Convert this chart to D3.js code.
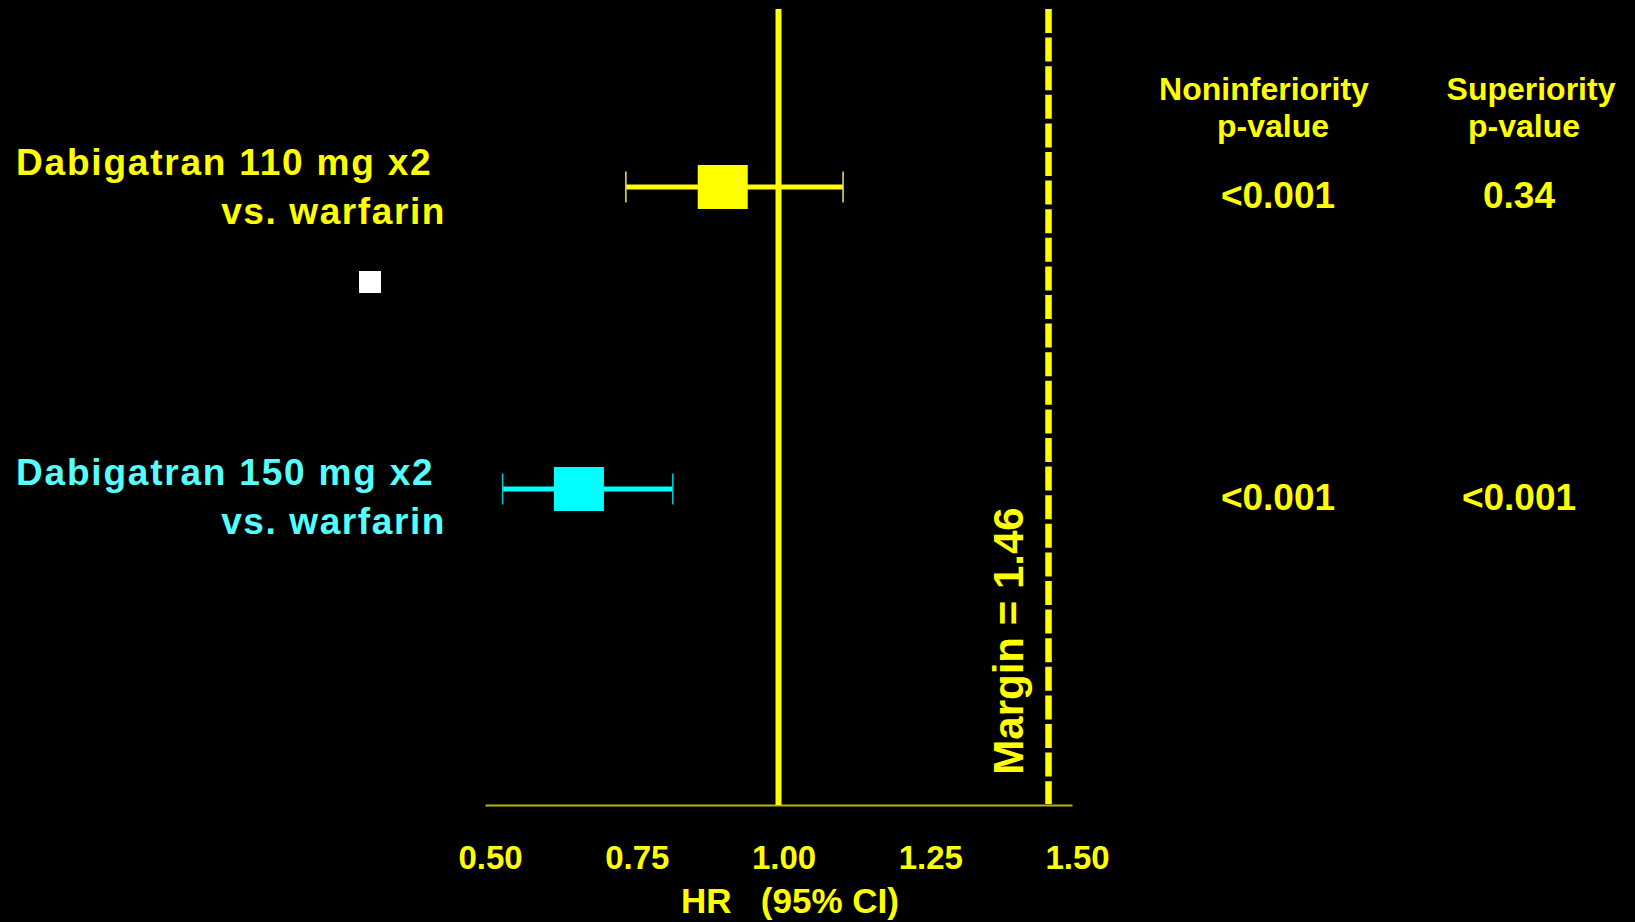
<!DOCTYPE html>
<html>
<head>
<meta charset="utf-8">
<script src="https://cdn.jsdelivr.net/npm/d3@7/dist/d3.min.js"></script>
<style>
  html, body { margin: 0; padding: 0; background: #000; }
  svg { display: block; }
  text { font-family: "Liberation Sans", Arial, sans-serif; font-weight: bold; }
</style>
</head>
<body>
<svg id="chart" width="1635" height="922"></svg>
<script>
// ---- data ----
const labelLine1 = ["Dabigatran 110 mg x2", "Dabigatran 150 mg x2"];
const labelLine2 = ["vs. warfarin", "vs. warfarin"];
const hr = [0.905, 0.66];
const lower = [0.74, 0.53];
const upper = [1.11, 0.82];
const nonInfP = ["<0.001", "<0.001"];
const supP = ["0.34", "<0.001"];
const tickValues = [0.50, 0.75, 1.00, 1.25, 1.50];
const margin = 1.46;
const colHeaders = [["Noninferiority", "p-value"], ["Superiority", "p-value"]];

// ---- styling ----
const YELLOW = "#FFFF00";
const markColor = ["#FFFF00", "#00FFFF"];
const textColor = ["#FFFF00", "#55FFFF"];
const capColor = ["#D8D860", "#00C8C8"];

const svg = d3.select("#chart");
svg.append("rect").attr("width", 1635).attr("height", 922).attr("fill", "#000");

const x = d3.scaleLinear().domain([0.5, 1.5]).range([485, 1072]);
const y = d3.scalePoint().domain(d3.range(hr.length)).range([187, 489]);
const yTop = 9, yAxis = 805;

// axis line
const axis = d3.axisBottom(x).tickValues(tickValues).tickFormat(d3.format(".2f")).tickSize(0).tickPadding(0);
const gAxis = svg.append("g").attr("transform", `translate(0,${yAxis})`).call(axis);
gAxis.select(".domain").attr("stroke", "#B8B800").attr("stroke-width", 2.2);
gAxis.selectAll(".tick text")
  .attr("fill", YELLOW).attr("font-size", 33).attr("dy", 0).attr("y", 64)
  .attr("dx", 5)
  .style("font-family", "'Liberation Sans', Arial, sans-serif").style("font-weight", "bold");

svg.append("text").attr("x", 790).attr("y", 913).attr("text-anchor", "middle")
  .attr("fill", YELLOW).attr("font-size", 35).attr("xml:space", "preserve")
  .text("HR   (95% CI)");

// reference line at 1.0
svg.append("line").attr("x1", x(1)).attr("x2", x(1)).attr("y1", yTop).attr("y2", yAxis)
  .attr("stroke", YELLOW).attr("stroke-width", 6);

// margin dashed line
svg.append("line").attr("x1", x(margin)).attr("x2", x(margin)).attr("y1", yTop).attr("y2", yAxis - 1)
  .attr("stroke", YELLOW).attr("stroke-width", 6.5).attr("stroke-dasharray", "24 4.6");

svg.append("text")
  .attr("transform", `translate(1023,641) rotate(-90)`)
  .attr("text-anchor", "middle").attr("fill", YELLOW).attr("font-size", 42)
  .text("Margin = " + margin.toFixed(2));

// rows
const rows = svg.selectAll("g.row").data(hr).join("g").attr("class", "row");
rows.append("line")
  .attr("x1", (d, i) => x(lower[i])).attr("x2", (d, i) => x(upper[i]))
  .attr("y1", (d, i) => y(i)).attr("y2", (d, i) => y(i))
  .attr("stroke", (d, i) => markColor[i]).attr("stroke-width", 4.8);
rows.selectAll("line.cap").data((d, i) => [[lower[i], i], [upper[i], i]]).join("line").attr("class", "cap")
  .attr("x1", d => x(d[0])).attr("x2", d => x(d[0]))
  .attr("y1", d => y(d[1]) - 15.5).attr("y2", d => y(d[1]) + 15.5)
  .attr("stroke", d => capColor[d[1]]).attr("stroke-width", 1.6);
rows.append("rect")
  .attr("x", d => x(d) - 25).attr("y", (d, i) => y(i) - 22)
  .attr("width", 50).attr("height", 44)
  .attr("fill", (d, i) => markColor[i]);

// left labels
const labelBase = [175, 485];
labelLine1.forEach((t, i) => {
  svg.append("text").attr("x", 16).attr("y", labelBase[i])
    .attr("fill", textColor[i]).attr("font-size", 37).attr("letter-spacing", 1.8).text(t);
  svg.append("text").attr("x", 446).attr("y", labelBase[i] + 48.5).attr("text-anchor", "end")
    .attr("fill", textColor[i]).attr("font-size", 37).attr("letter-spacing", 1.6).text(labelLine2[i]);
});

// column headers
const hdrX = [[1264, 1273], [1531, 1524]];
colHeaders.forEach((h, c) => {
  h.forEach((s, k) => {
    svg.append("text").attr("x", hdrX[c][k]).attr("y", 100 + k * 37)
      .attr("text-anchor", "middle").attr("fill", YELLOW).attr("font-size", 32).text(s);
  });
});

// p-values
const colX = [1278, 1519];
[nonInfP, supP].forEach((vals, c) => {
  vals.forEach((v, i) => {
    svg.append("text").attr("x", colX[c]).attr("y", y(i) + 20.5)
      .attr("text-anchor", "middle").attr("fill", YELLOW).attr("font-size", 37).text(v);
  });
});

// stray white marker
svg.append("rect").attr("x", 359).attr("y", 271).attr("width", 22).attr("height", 22).attr("fill", "#fff");
</script>
</body>
</html>
